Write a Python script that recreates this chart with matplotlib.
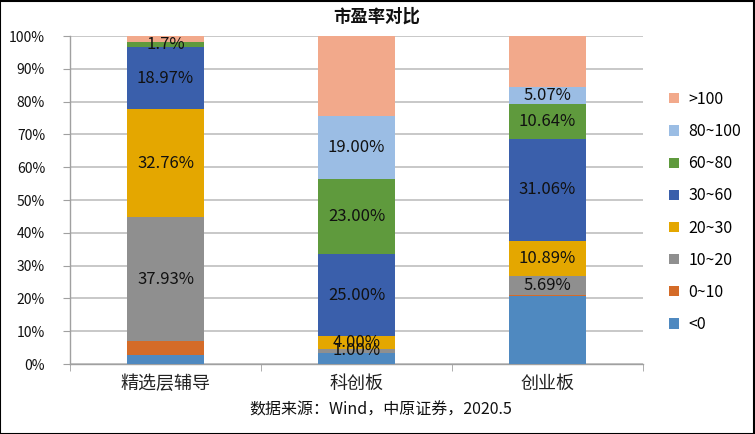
import matplotlib
matplotlib.use("Agg")
import matplotlib.pyplot as plt
from matplotlib.patches import Patch, Rectangle
import numpy as np

plt.rcParams['font.family'] = ['Noto Sans CJK SC', 'DejaVu Sans']

categories = ['精选层辅导', '科创板', '创业板']
series = ['<0', '0~10', '10~20', '20~30', '30~60', '60~80', '80~100', '>100']
v_lt0 = [2.6, 3.5, 20.7]
v_0_10 = [4.34, 0.0, 0.35]
v_10_20 = [37.93, 1.00, 5.69]
v_20_30 = [32.76, 4.00, 10.89]
v_30_60 = [18.97, 25.00, 31.06]
v_60_80 = [1.7, 23.00, 10.64]
v_80_100 = [0.0, 19.00, 5.07]
v_gt100 = [1.7, 24.5, 15.6]
values = [v_lt0, v_0_10, v_10_20, v_20_30, v_30_60, v_60_80, v_80_100, v_gt100]

lab_lt0 = ['', '', '']
lab_0_10 = ['', '', '']
lab_10_20 = ['37.93%', '1.00%', '5.69%']
lab_20_30 = ['32.76%', '4.00%', '10.89%']
lab_30_60 = ['18.97%', '25.00%', '31.06%']
lab_60_80 = ['1.7%', '23.00%', '10.64%']
lab_80_100 = ['', '19.00%', '5.07%']
lab_gt100 = ['', '', '']
labels = [lab_lt0, lab_0_10, lab_10_20, lab_20_30, lab_30_60, lab_60_80, lab_80_100, lab_gt100]

colors = ['#4f89c0', '#d46b28', '#8f8f8f', '#e4a700', '#3a5fab', '#5f9a3d', '#9bbde4', '#f2a98b']

yticks = [0, 10, 20, 30, 40, 50, 60, 70, 80, 90, 100]

fig = plt.figure(figsize=(7.55, 4.34), dpi=100)
ax = fig.add_axes([70/755, 70/434, (643-70)/755, (364-36)/434])

x = np.arange(len(categories))
bottom = np.zeros(len(categories))
for vals, col, labs in zip(values, colors, labels):
    vals = np.array(vals)
    ax.bar(x, vals, 0.40, bottom=bottom, color=col, edgecolor='none', zorder=3)
    for xi, b, v, s in zip(x, bottom, vals, labs):
        if s:
            ax.text(xi, b + v / 2, s, ha='center', va='center', fontsize=12,
                    color='#111111', zorder=4)
    bottom = bottom + vals

ax.set_xlim(-0.5, 2.5)
ax.set_ylim(0, 100)
ax.set_yticks(yticks)
ax.set_yticklabels([f'{t}%' for t in yticks], fontsize=10, color='#111111')
ax.yaxis.grid(True, color='#c4c4c4', linewidth=1.3, zorder=0)
ax.set_axisbelow(True)
ax.tick_params(axis='y', length=5, color='#a0a0a0', pad=13)

ax.set_xticks(x)
ax.set_xticklabels(categories, fontsize=13, color='#222222')
ax.set_xticks([-0.5, 0.5, 1.5, 2.5], minor=True)
ax.tick_params(axis='x', which='major', length=0, pad=8)
ax.tick_params(axis='x', which='minor', length=5, color='#a0a0a0')

for s in ['top', 'right']:
    ax.spines[s].set_visible(False)
ax.spines['left'].set_color('#a0a0a0')
ax.spines['bottom'].set_color('#a0a0a0')
ax.spines['left'].set_linewidth(1.0)
ax.spines['bottom'].set_linewidth(1.0)

fig.text(377/755, 1 - 17/434, '市盈率对比', ha='center', va='center',
         fontsize=12.5, fontweight='bold', color='#111111')
fig.text(381/755, 1 - 410/434, '数据来源：Wind，中原证券，2020.5', ha='center',
         va='center', fontsize=11.5, color='#111111')

handles = [Patch(facecolor=c, edgecolor='none') for c in colors][::-1]
fig.legend(handles, series[::-1], loc='center left',
           bbox_to_anchor=(669/755, 1 - 212/434), frameon=False,
           fontsize=11.5, handlelength=0.6, handleheight=0.6,
           handletextpad=0.6, labelspacing=0.95, borderpad=0, borderaxespad=0)

fig.patches.append(Rectangle((0.0005, 0.001), 0.998, 0.997, transform=fig.transFigure,
                             fill=False, edgecolor='black', linewidth=1.5))

fig.savefig('out.png', dpi=100)
